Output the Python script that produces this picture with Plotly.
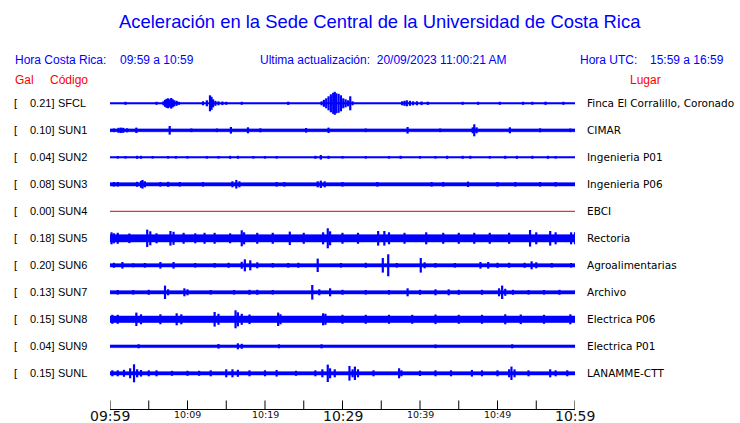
import plotly.graph_objects as go

W, H = 740, 423

# ---------------- data ----------------
codes = ["SFCL", "SUN1", "SUN2", "SUN3", "SUN4", "SUN5", "SUN6", "SUN7", "SUN8", "SUN9", "SUNL"]
gal = [0.21, 0.10, 0.04, 0.08, 0.00, 0.18, 0.20, 0.13, 0.15, 0.04, 0.15]
places = ["Finca El Corralillo, Coronado", "CIMAR", "Ingenieria P01", "Ingenieria P06", "EBCI",
          "Rectoria", "Agroalimentarias", "Archivo", "Electrica P06", "Electrica P01", "LANAMME-CTT"]

# baseline (background noise) half-amplitude of each record, relative units
base_amp = [0.7, 1.4, 0.7, 1.6, 0.0, 3.6, 1.6, 1.6, 3.2, 1.3, 1.6]

# peaks of each record: minutes after 09:59 and half-amplitude (relative units)
peak_min = {
    "SFCL": [2.0, 6.0, 6.9, 7.1, 7.3, 7.5, 7.7, 7.9, 8.1, 8.3, 8.6, 8.9, 12.0, 12.5, 12.9, 13.1, 13.3, 13.6, 14.0,
             14.5, 15.0, 17.0, 23.0, 27.3, 27.6, 27.9, 28.2, 28.5, 28.8, 29.0, 29.2, 29.5, 29.8, 30.1, 30.4, 30.7,
             31.0, 31.3, 37.7, 38.0, 38.3, 38.7, 39.1, 39.6, 40.2, 41.0, 45.5, 47.5, 50.3, 53.3, 54.5, 56.2, 58.5],
    "SUN1": [0.5, 1.1, 1.4, 1.7, 2.2, 3.4, 7.7, 10.5, 13.8, 15.6, 17.8, 19.4, 25.3, 28.2, 33.0, 38.4, 42.6, 46.8,
             47.0, 47.3, 51.6, 55.5, 59.4],
    "SUN2": [1.0, 2.0, 3.5, 4.0, 5.5, 7.5, 8.5, 10.0, 12.5, 14.0, 15.5, 16.5, 18.5, 20.0, 21.5, 26.5, 27.2, 28.2,
             30.0, 33.0, 36.0, 37.5, 40.0, 42.0, 43.5, 45.5, 46.5, 49.0, 51.0, 52.5, 54.5, 56.5, 57.5],
    "SUN3": [0.5, 1.0, 3.5, 4.0, 4.2, 4.5, 6.5, 7.5, 9.0, 12.0, 15.8, 16.3, 16.7, 21.5, 22.5, 26.8, 27.2, 27.7,
             30.0, 34.5, 41.5, 43.0, 46.2, 50.0, 52.3, 55.5, 57.5],
    "SUN4": [],
    "SUN5": [0.2, 0.5, 1.0, 2.5, 4.8, 5.2, 6.0, 7.8, 8.2, 9.5, 11.0, 12.2, 13.5, 15.5, 17.0, 17.3, 19.0, 21.0,
             23.2, 25.0, 27.5, 28.1, 28.4, 30.0, 32.0, 34.6, 35.4, 36.0, 38.0, 40.8, 43.0, 45.0, 47.0, 49.0, 51.5,
             54.2, 55.0, 56.8, 57.5, 59.5, 60.0],
    "SUN6": [0.5, 1.6, 3.0, 4.5, 6.5, 8.2, 11.0, 13.5, 15.3, 17.0, 17.4, 18.1, 19.0, 21.0, 23.0, 24.3, 26.8, 29.8,
             33.0, 35.2, 35.9, 37.0, 40.1, 40.6, 42.0, 44.5, 47.8, 48.8, 50.0, 51.5, 53.5, 54.4, 55.0, 57.0, 59.5],
    "SUN7": [1.0, 3.0, 5.0, 7.1, 7.5, 9.6, 10.0, 13.0, 16.0, 18.0, 19.0, 21.0, 26.1, 27.0, 28.4, 30.0, 33.0, 36.0,
             38.4, 40.0, 42.0, 43.7, 45.0, 48.0, 50.2, 50.6, 51.0, 52.0, 54.0, 56.0, 58.0],
    "SUN8": [0.3, 1.0, 3.4, 4.0, 6.5, 8.6, 9.2, 13.5, 14.0, 16.2, 16.5, 17.0, 18.0, 21.7, 22.0, 27.5, 27.8, 30.0,
             33.0, 36.0, 39.0, 42.0, 45.0, 48.0, 51.0, 53.0, 56.0, 59.4],
    "SUN9": [3.7, 14.0, 16.5, 17.0, 21.8, 27.3, 42.0, 51.9],
    "SUNL": [0.3, 1.0, 1.8, 2.6, 3.1, 3.5, 4.0, 5.0, 6.0, 8.0, 10.0, 11.5, 13.0, 15.0, 15.8, 16.5, 18.0, 20.0,
             21.5, 24.0, 26.5, 27.4, 28.1, 28.4, 29.0, 30.9, 31.3, 31.6, 32.0, 34.0, 37.3, 37.6, 40.0, 42.0, 44.0,
             46.7, 48.0, 50.0, 51.5, 51.8, 52.2, 54.0, 56.8, 57.5, 59.0],
}
peak_amp = {
    "SFCL": [1.5, 1.5, 2.0, 3.5, 4.5, 5.0, 4.0, 5.3, 4.0, 3.0, 2.5, 1.5, 2.0, 3.0, 8.0, 6.5, 4.0, 2.5, 2.0,
             1.8, 1.5, 1.5, 1.6, 2.0, 3.5, 5.0, 7.0, 9.0, 10.5, 11.5, 10.0, 9.5, 8.0, 5.0, 4.0, 3.0,
             7.0, 2.0, 2.0, 2.5, 3.0, 2.5, 2.0, 2.0, 1.8, 1.6, 1.5, 1.5, 1.5, 1.5, 1.5, 1.6, 1.5],
    "SUN1": [1.8, 2.5, 2.7, 2.5, 2.0, 2.7, 4.3, 1.8, 1.8, 3.3, 3.0, 2.0, 2.3, 2.7, 1.8, 3.3, 1.8, 3.0,
             6.0, 3.0, 3.0, 2.0, 1.8],
    "SUN2": [1.3, 1.3, 1.5, 1.5, 1.3, 1.3, 1.3, 1.3, 1.3, 1.3, 1.5, 1.5, 1.3, 1.3, 1.3, 1.5, 2.3, 1.5,
             1.3, 1.3, 1.3, 1.5, 1.3, 1.3, 1.5, 1.5, 1.5, 1.3, 1.5, 1.5, 1.5, 1.5, 1.3],
    "SUN3": [2.3, 2.3, 2.5, 3.5, 4.3, 3.0, 2.3, 2.5, 2.3, 2.3, 3.0, 4.3, 3.0, 2.3, 2.3, 3.0, 3.7, 3.0,
             2.3, 2.3, 2.3, 2.3, 2.7, 2.3, 2.3, 2.3, 2.3],
    "SUN4": [],
    "SUN5": [6.0, 5.0, 5.5, 4.8, 8.7, 7.0, 5.0, 7.3, 6.5, 5.5, 5.0, 5.5, 5.5, 5.0, 8.0, 6.0, 5.5, 5.5,
             6.7, 5.5, 6.0, 10.0, 7.0, 5.5, 5.5, 7.3, 7.3, 6.0, 5.5, 6.0, 5.5, 5.5, 5.5, 5.5, 5.5,
             8.3, 6.0, 7.3, 6.0, 6.0, 6.0],
    "SUN6": [2.5, 3.3, 2.0, 2.3, 3.3, 3.3, 2.3, 2.3, 2.5, 3.5, 6.0, 5.0, 3.0, 2.3, 2.3, 2.5, 6.7, 2.3,
             2.5, 7.3, 11.0, 2.3, 7.3, 3.0, 2.3, 2.3, 3.3, 3.3, 2.5, 2.5, 2.5, 4.0, 3.0, 2.3, 2.3],
    "SUN7": [2.3, 2.3, 2.5, 6.7, 3.0, 4.0, 3.0, 2.3, 2.3, 2.5, 2.5, 2.3, 7.3, 3.0, 4.0, 2.5, 2.3, 2.3,
             4.0, 2.5, 3.0, 3.0, 2.5, 2.5, 4.0, 6.7, 3.5, 2.5, 2.3, 2.3, 2.5],
    "SUN8": [4.5, 4.5, 6.7, 5.0, 5.0, 6.0, 5.0, 7.3, 5.5, 9.0, 7.0, 5.5, 4.8, 6.7, 5.0, 6.0, 5.5, 4.5,
             4.5, 4.5, 4.5, 4.8, 4.5, 4.5, 5.0, 4.8, 4.5, 5.0],
    "SUN9": [2.0, 2.3, 3.0, 2.5, 2.0, 2.0, 1.8, 2.0],
    "SUNL": [3.0, 3.0, 3.5, 5.0, 9.0, 4.0, 3.3, 3.0, 3.0, 2.5, 2.5, 2.5, 3.0, 4.0, 4.0, 3.5, 3.0, 3.0,
             3.3, 2.5, 3.0, 4.0, 8.7, 5.0, 4.0, 7.3, 4.0, 6.7, 4.0, 3.0, 5.0, 3.0, 2.7, 3.0, 3.0,
             3.3, 3.0, 3.0, 4.0, 6.7, 4.0, 3.0, 4.0, 3.0, 3.0],
}

tick_minutes = list(range(0, 61, 5))
tick_labels = {0: "09:59", 10: "10:09", 20: "10:19", 30: "10:29", 40: "10:39", 50: "10:49", 60: "10:59"}
big_labels = {"09:59", "10:29", "10:59"}

title = "Aceleración en la Sede Central de la Universidad de Costa Rica"
hora_cr = "09:59 a 10:59"
actualizacion = "20/09/2023 11:00:21 AM"
hora_utc = "15:59 a 16:59"

# ---------------- layout constants ----------------
BLUE = "#0000ff"
RED = "#ff0000"
ROW0_PX, ROW_PX = 103.3, 27.0   # pixel of first row, spacing
AMP = 1.0 / ROW_PX              # relative amplitude unit -> row units
X0_PX, X1_PX = 110, 575
AXIS_PX = 409.5
TICK_PX = 9
PAD = 2   # annotation inner padding compensation

def px(xp, yp):
    return xp / W, 1 - yp / H

fig = go.Figure()

for i, c in enumerate(codes):
    b = base_amp[i] * AMP
    if c == "SUN4":
        fig.add_trace(go.Scatter(x=[0, 60], y=[i, i], mode="lines",
                                 line=dict(color="#e00000", width=1), hoverinfo="skip"))
        continue
    # noise band
    fig.add_trace(go.Scatter(x=[0, 60, 60, 0, 0], y=[i - b, i - b, i + b, i + b, i - b],
                             mode="lines", fill="toself", fillcolor=BLUE,
                             line=dict(color=BLUE, width=0.6), hoverinfo="skip"))
    # peaks
    xs, ys = [], []
    for m, a in zip(peak_min[c], peak_amp[c]):
        xs += [m, m, None]
        ys += [i - a * AMP, i + a * AMP, None]
    fig.add_trace(go.Scatter(x=xs, y=ys, mode="lines", line=dict(color=BLUE, width=2.2),
                             hoverinfo="skip", connectgaps=False))

# time axis drawn through the x scale
ax_y = 1 - AXIS_PX / H
tk_y = 1 - (AXIS_PX - TICK_PX) / H
shapes = [dict(type="line", xref="x", yref="paper", x0=tick_minutes[0], x1=tick_minutes[-1],
               y0=ax_y, y1=ax_y, line=dict(color="black", width=1))]
for m in tick_minutes:
    shapes.append(dict(type="line", xref="x", yref="paper", x0=m, x1=m, y0=ax_y, y1=tk_y,
                       line=dict(color="black", width=1)))

ann = []
def text(xp, yp, t, size, color, xanchor="left", family="Liberation Sans"):
    x, y = px(xp - (PAD if xanchor == "left" else 0), yp)
    ann.append(dict(x=x, y=y, xref="paper", yref="paper", text=t, showarrow=False,
                    xanchor=xanchor, yanchor="middle",
                    font=dict(size=size, color=color, family=family)))

text(380, 22, title, 18.4, BLUE, "center")
text(15, 60, "Hora Costa Rica:", 12, BLUE)
text(120, 60, hora_cr, 12, BLUE)
text(260, 60, "Ultima actualización:  " + actualizacion, 12, BLUE)
text(580, 60, "Hora UTC:", 12, BLUE)
text(650, 60, hora_utc, 12, BLUE)
text(15, 80, "Gal", 12, RED)
text(50, 80, "Código", 12, RED)
text(630, 80, "Lugar", 12, RED)

for i, c in enumerate(codes):
    common = dict(y=i, xref="paper", yref="y", showarrow=False, yanchor="middle",
                  font=dict(size=11, color="black", family="Liberation Sans"))
    ann.append(dict(x=(14 - PAD) / W, text="[", xanchor="left", **common))
    ann.append(dict(x=(54 + PAD) / W, text=f"{gal[i]:.2f}]", xanchor="right", **common))
    ann.append(dict(x=(58 - PAD) / W, text=c, xanchor="left", **common))
    ann.append(dict(x=(587 - PAD) / W, text=places[i], xanchor="left", y=i, xref="paper", yref="y",
                    showarrow=False, yanchor="middle",
                    font=dict(size=10.5, color="black", family="DejaVu Sans")))

for m, lab in tick_labels.items():
    big = lab in big_labels
    ann.append(dict(x=m, xref="x", y=1 - (416 if big else 414.5) / H, yref="paper", text=lab,
                    showarrow=False, xanchor="center", yanchor="middle",
                    font=dict(size=14 if big else 9.5, color="#111111", family="DejaVu Sans")))

y_top = (0 - ROW0_PX) / ROW_PX
y_bot = (H - ROW0_PX) / ROW_PX

fig.update_layout(
    width=W, height=H, margin=dict(l=0, r=0, t=0, b=0),
    paper_bgcolor="white", plot_bgcolor="white", showlegend=False,
    annotations=ann, shapes=shapes,
    xaxis=dict(domain=[X0_PX / W, X1_PX / W], range=[0, 60], visible=False,
               showgrid=False, zeroline=False, fixedrange=True),
    yaxis=dict(domain=[0, 1], range=[y_bot, y_top], visible=False, showgrid=False,
               zeroline=False, fixedrange=True),
)

fig.write_html("out.html", config={"displayModeBar": False},
               post_script="document.body.style.margin='0';document.body.style.overflow='hidden';")
